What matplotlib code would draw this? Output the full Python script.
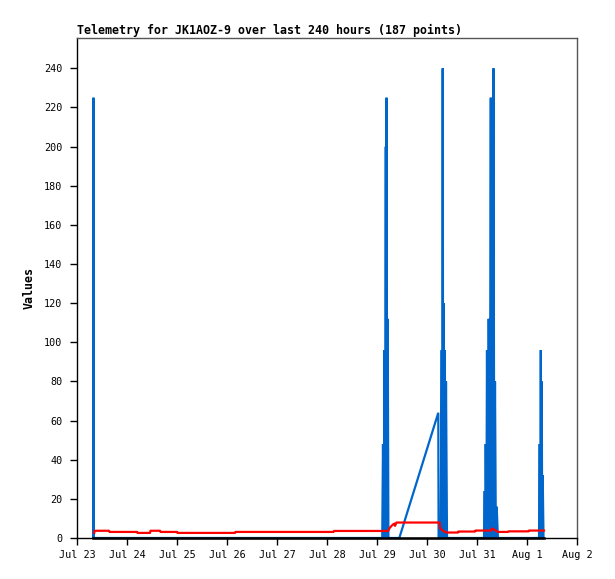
import matplotlib
matplotlib.use("Agg")
import matplotlib.pyplot as plt

# x values: days since Jul 23 00:00
tick_days = [0, 1, 2, 3, 4, 5, 6, 7, 8, 9, 10]
tick_labels = ["Jul 23", "Jul 24", "Jul 25", "Jul 26", "Jul 27", "Jul 28",
               "Jul 29", "Jul 30", "Jul 31", "Aug 1", "Aug 2"]
y_ticks = [0, 20, 40, 60, 80, 100, 120, 140, 160, 180, 200, 220, 240]

blue_t = [0.325, 0.33, 0.335,
          6.105, 6.12, 6.135, 6.15, 6.163, 6.176, 6.183, 6.19, 6.20, 6.214, 6.228, 6.446,
          7.226, 7.232, 7.274, 7.294, 7.304, 7.314, 7.324, 7.334, 7.342, 7.35, 7.365, 7.38, 7.40,
          8.14, 8.154, 8.164, 8.174, 8.187, 8.20, 8.217, 8.234, 8.255, 8.276, 8.29, 8.315,
          8.33, 8.345, 8.36, 8.377, 8.394, 8.418,
          9.24, 9.254, 9.264, 9.276, 9.285, 9.294, 9.304, 9.314, 9.33]
blue_v = [0, 225, 0,
          0, 48, 0, 96, 0, 200, 0, 225, 0, 112, 0, 0,
          64, 0, 0, 96, 0, 240, 0, 120, 0, 96, 0, 80, 0,
          0, 24, 0, 48, 0, 96, 0, 112, 0, 225, 0, 0,
          240, 0, 80, 0, 16, 0,
          0, 48, 0, 96, 16, 80, 0, 32, 0]

red_t = [0.345, 0.35, 0.64, 0.65, 1.20, 1.21, 1.46, 1.47, 1.66, 1.67, 2.00, 2.01,
         3.16, 3.17, 5.13, 5.14, 6.22, 6.25, 6.29, 6.32, 6.35, 6.36, 6.39, 7.25,
         7.26, 7.33, 7.39, 7.62, 7.63, 7.96, 7.97, 8.28, 8.30, 8.36, 8.42, 8.62,
         8.63, 9.03, 9.04, 9.34]
red_v = [2.6, 3.7, 3.7, 3.1, 3.1, 2.6, 2.6, 3.7, 3.7, 3.1, 3.1, 2.6,
         2.6, 3.1, 3.1, 3.6, 3.6, 5.0, 6.2, 6.9, 7.4, 6.2, 7.9, 7.9,
         5.0, 3.5, 2.8, 2.8, 3.3, 3.3, 3.8, 3.8, 4.9, 4.0, 3.1, 3.1,
         3.4, 3.4, 3.8, 3.8]

black_t = [0.325, 9.34]
black_v = [0, 0]

mono = "DejaVu Sans Mono"

fig = plt.figure(figsize=(6.15, 5.79), dpi=100)
ax = fig.add_axes([77 / 615, 1 - 538 / 579, 500 / 615, 500 / 579])

ax.plot(blue_t, blue_v, color="#0066cc", lw=1.6, zorder=2, solid_joinstyle="miter")
ax.plot(red_t, red_v, color="#ff0000", lw=1.6, zorder=3)
ax.plot(black_t, black_v, color="black", lw=1.8, zorder=4, clip_on=False)

ax.set_xlim(0, 10)
ax.set_ylim(0, 255.5)

ax.set_xticks(tick_days)
ax.set_xticklabels(tick_labels, family=mono, fontsize=7.3)
ax.set_yticks(y_ticks)
ax.set_yticklabels([str(v) for v in y_ticks], family=mono, fontsize=7.3)
ax.tick_params(axis="both", direction="out", length=5, width=1, color="black")
ax.tick_params(axis="x", pad=4)
ax.tick_params(axis="y", pad=5.5)

for side in ["left", "bottom"]:
    ax.spines[side].set_color("black")
    ax.spines[side].set_linewidth(1)
for side in ["top", "right"]:
    ax.spines[side].set_color("#555555")
    ax.spines[side].set_linewidth(1)

ax.set_title("Telemetry for JK1AOZ-9 over last 240 hours (187 points)",
             loc="left", family=mono, fontweight="bold", fontsize=8.35, pad=3)
ax.set_ylabel("Values", family=mono, fontweight="bold", fontsize=8.35, labelpad=6)

fig.savefig("out.png", dpi=100)
